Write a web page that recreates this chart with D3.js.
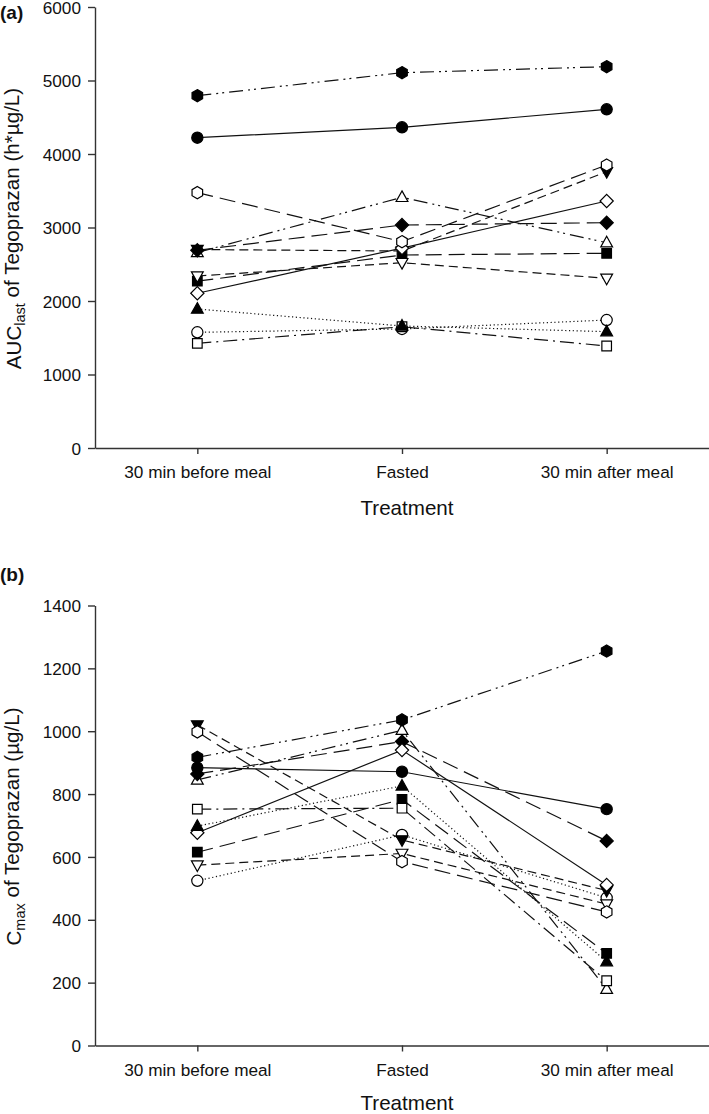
<!DOCTYPE html>
<html>
<head>
<meta charset="utf-8">
<script src="https://cdn.jsdelivr.net/npm/d3@7"></script>
<style>
  body { margin: 0; background: #fff; }
  svg { display: block; font-family: "Liberation Sans", Arial, sans-serif; }
  .axis path, .axis line { stroke: #333; stroke-width: 1.4; }
  .axis text { font-size: 17.2px; fill: #111; }
  .title { font-size: 20.6px; fill: #111; }
  .panel { font-size: 19px; font-weight: bold; fill: #111; }
</style>
</head>
<body>
<svg width="709" height="1114"></svg>
<script>
"use strict";

// treatments on the x axis
const treatments = ["30 min before meal", "Fasted", "30 min after meal"];

const aucTicks = [0, 1000, 2000, 3000, 4000, 5000, 6000];
const cmaxTicks = [0, 200, 400, 600, 800, 1000, 1200, 1400];

// one row per subject, values for the three treatments
const aucLast = [
    [4222, 4363, 4608],
    [1574, 1620, 1741],
    [2700, 2680, 3759],
    [2660, 3411, 2793],
    [2270, 2626, 2649],
    [1424, 1650, 1388],
    [2690, 3034, 3065],
    [2105, 2720, 3360],
    [1891, 1660, 1583],
    [2340, 2521, 2309],
    [4793, 5106, 5188],
    [3474, 2807, 3850]
];

const cmax = [
    [884, 871, 752],
    [524, 670, 470],
    [1020, 654, 493],
    [845, 1003, 179],
    [615, 783, 293],
    [752, 755, 206],
    [864, 967, 651],
    [677, 940, 511],
    [698, 826, 267],
    [574, 611, 450],
    [917, 1036, 1255],
    [998, 585, 425]
];

// symbol + line style per subject (same order as the rows above)
const symbols = [
    {shape: "circle", filled: true, dash: null},
    {shape: "circle", filled: false, dash: "1.2,2.6"},
    {shape: "triDown", filled: true, dash: "9,5"},
    {shape: "triUp", filled: false, dash: "14,5,2,4,2,5"},
    {shape: "square", filled: true, dash: "16,7"},
    {shape: "square", filled: false, dash: "14,5,2,5"},
    {shape: "diamond", filled: true, dash: "16,7"},
    {shape: "diamond", filled: false, dash: null},
    {shape: "triUp", filled: true, dash: "1.2,2.6"},
    {shape: "triDown", filled: false, dash: "9,5"},
    {shape: "hexagon", filled: true, dash: "14,5,2,4,2,5"},
    {shape: "hexagon", filled: false, dash: "16,7"}
];

function shapePath(shape) {
    const p = d3.path();
    if (shape === "circle") {
        p.arc(0, 0, 5.6, 0, 2 * Math.PI);
    } else if (shape === "square") {
        p.rect(-4.8, -4.8, 9.6, 9.6);
    } else if (shape === "diamond") {
        p.moveTo(0, -6.6); p.lineTo(6.6, 0); p.lineTo(0, 6.6); p.lineTo(-6.6, 0); p.closePath();
    } else if (shape === "triUp") {
        p.moveTo(0, -6.4); p.lineTo(5.9, 4.2); p.lineTo(-5.9, 4.2); p.closePath();
    } else if (shape === "triDown") {
        p.moveTo(0, 6.4); p.lineTo(5.9, -4.2); p.lineTo(-5.9, -4.2); p.closePath();
    } else if (shape === "hexagon") {
        for (let i = 0; i < 6; i++) {
            const a = -Math.PI / 2 + i * Math.PI / 3;
            const x = 6.1 * Math.cos(a), y = 6.1 * Math.sin(a);
            if (i === 0) p.moveTo(x, y); else p.lineTo(x, y);
        }
        p.closePath();
    }
    return p.toString();
}

const svg = d3.select("svg");

function drawPanel(opt) {
    const x = d3.scalePoint()
        .domain(treatments)
        .range([95, 709])
        .padding(0.5);

    const y = d3.scaleLinear()
        .domain([0, opt.max])
        .range([opt.bottom, opt.top]);

    const g = svg.append("g");

    g.append("g")
        .attr("class", "axis")
        .attr("transform", `translate(95,0)`)
        .call(d3.axisLeft(y).tickValues(opt.ticks).tickFormat(d3.format("d"))
            .tickSize(7).tickSizeOuter(0).tickPadding(7))
        .call(a => a.selectAll("text").attr("dy", "0.36em"));

    g.append("g")
        .attr("class", "axis")
        .attr("transform", `translate(0,${opt.bottom})`)
        .call(d3.axisBottom(x).tickSize(6).tickSizeOuter(0).tickPadding(12));

    const line = d3.line()
        .x((d, i) => x(treatments[i]))
        .y(d => y(d));

    g.selectAll(".subj")
        .data(opt.values)
        .enter()
        .append("path")
        .attr("fill", "none")
        .attr("stroke", "#111")
        .attr("stroke-width", 1.2)
        .attr("stroke-dasharray", (d, i) => symbols[i].dash)
        .attr("d", line);

    opt.values.forEach((row, i) => {
        g.selectAll(null)
            .data(row)
            .enter()
            .append("path")
            .attr("transform", (d, j) => `translate(${x(treatments[j])},${y(d)})`)
            .attr("d", shapePath(symbols[i].shape))
            .attr("fill", symbols[i].filled ? "#000" : "#fff")
            .attr("stroke", "#000")
            .attr("stroke-width", 1.2);
    });

    // y axis title
    const yt = svg.append("text")
        .attr("class", "title")
        .attr("text-anchor", "middle")
        .attr("transform", `translate(21,${(opt.top + opt.bottom) / 2 + 1}) rotate(-90)`);
    yt.append("tspan").text(opt.yMain);
    yt.append("tspan").attr("font-size", "14.5px").attr("dy", "0.3em").text(opt.ySub);
    yt.append("tspan").attr("dy", "-0.3em").text(opt.yRest);

    svg.append("text")
        .attr("class", "title")
        .attr("text-anchor", "middle")
        .attr("x", x("Fasted") + 5)
        .attr("y", opt.xTitleY)
        .text("Treatment");

    svg.append("text")
        .attr("class", "panel")
        .attr("x", 0)
        .attr("y", opt.labelY)
        .text(opt.label);
}

drawPanel({
    values: aucLast, max: 6000, ticks: aucTicks,
    top: 7, bottom: 448,
    yMain: "AUC", ySub: "last", yRest: " of Tegoprazan (h*\u00b5g/L)",
    xTitleY: 515, label: "(a)", labelY: 19
});

drawPanel({
    values: cmax, max: 1400, ticks: cmaxTicks,
    top: 605.5, bottom: 1045.5,
    yMain: "C", ySub: "max", yRest: " of Tegoprazan (\u00b5g/L)",
    xTitleY: 1110, label: "(b)", labelY: 581
});
</script>
</body>
</html>
